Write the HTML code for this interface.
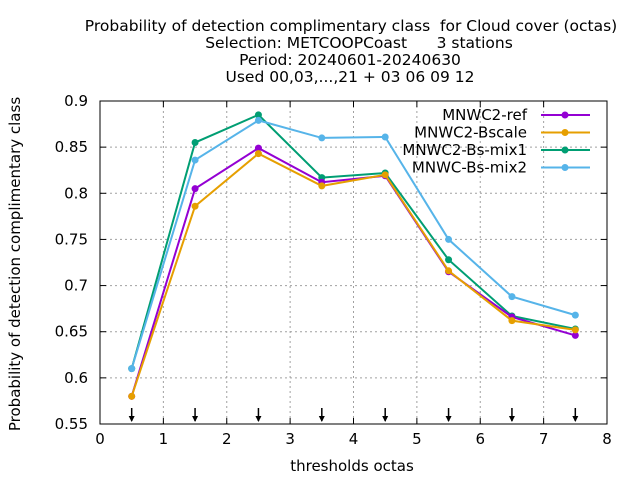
<!DOCTYPE html>
<html><head><meta charset="utf-8"><style>body{margin:0;background:#fff}svg{display:block;font-family:"DejaVu Sans","Liberation Sans",sans-serif}text{white-space:pre}</style></head>
<body>
<svg id="chart" width="640" height="480">
<g font-size="15.5" text-anchor="middle" fill="#000">
<text x="351" y="31">Probability of detection complimentary class  for Cloud cover (octas)</text>
<text x="359" y="48">Selection: METCOOPCoast      3 stations</text>
<text x="350" y="65">Period: 20240601-20240630</text>
<text x="350" y="82">Used 00,03,...,21 + 03 06 09 12</text>
</g>
<text transform="translate(20,264) rotate(-90)" text-anchor="middle" font-size="15">Probability of detection complimentary class</text>
<text x="352" y="471" text-anchor="middle" font-size="15">thresholds octas</text>
<g id="grid"></g><g id="axes"></g><g id="series"></g><g id="legend"></g>
</svg>
<script>
const categories=[0.5,1.5,2.5,3.5,4.5,5.5,6.5,7.5];
const xTicks=[0,1,2,3,4,5,6,7,8];
const yTicks=[0.55,0.6,0.65,0.7,0.75,0.8,0.85,0.9];
const yTickLabels=["0.55","0.6","0.65","0.7","0.75","0.8","0.85","0.9"];
const seriesNames=["MNWC2-ref","MNWC2-Bscale","MNWC2-Bs-mix1","MNWC-Bs-mix2"];
const seriesColors=["#9400d3","#e69f00","#009e73","#56b4e9"];
const refValues=[0.58,0.805,0.849,0.812,0.819,0.715,0.666,0.646];
const bscaleValues=[0.58,0.786,0.843,0.808,0.82,0.716,0.662,0.652];
const mix1Values=[0.61,0.855,0.885,0.817,0.822,0.728,0.667,0.653];
const mix2Values=[0.61,0.836,0.879,0.86,0.861,0.75,0.688,0.668];
const allSeries=[refValues,bscaleValues,mix1Values,mix2Values];
const drawOrder=[2,3,0,1];
const L=100,R=607,T=101,B=424,x0=0,x1=8,y0=0.55,y1=0.9;
const X=v=>L+(v-x0)/(x1-x0)*(R-L);
const Y=v=>B-(v-y0)/(y1-y0)*(B-T);
const NS="http://www.w3.org/2000/svg";
function mk(t,a,p){const e=document.createElementNS(NS,t);for(const k in a)e.setAttribute(k,a[k]);p.appendChild(e);return e;}
const grid=document.getElementById('grid'),axes=document.getElementById('axes'),ser=document.getElementById('series'),leg=document.getElementById('legend');
xTicks.forEach(v=>{const x=X(v);
if(v>x0&&v<x1){const g=mk('line',{x1:x,x2:x,y1:T,y2:B,stroke:'#a0a0a0','stroke-dasharray':'2,3','stroke-width':1},grid);}
const t=mk('text',{x:x,y:B+20,'text-anchor':'middle','font-size':15},axes);t.textContent=v;

mk('line',{x1:x,x2:x,y1:B,y2:B-6,stroke:'#000'},axes);mk('line',{x1:x,x2:x,y1:T,y2:T+6,stroke:'#000'},axes);});
yTicks.forEach((v,i)=>{const y=Y(v);
if(v>y0&&v<y1){const g=mk('line',{x1:L,x2:R,y1:y,y2:y,stroke:'#a0a0a0','stroke-dasharray':'2,3','stroke-width':1},grid);}
const t=mk('text',{x:L-12,y:y+5,'text-anchor':'end','font-size':15},axes);t.textContent=yTickLabels[i];

mk('line',{x1:L,x2:L+6,y1:y,y2:y,stroke:'#000'},axes);mk('line',{x1:R,x2:R-6,y1:y,y2:y,stroke:'#000'},axes);});
const fr=mk('rect',{x:L,y:T,width:R-L,height:B-T,fill:'none',stroke:'#000'},axes);

categories.forEach(c=>{const x=X(c);
const a=mk('g',{},axes);
mk('line',{x1:x,x2:x,y1:B-16,y2:B-3,stroke:'#000','stroke-width':1.5},a);
mk('path',{d:`M${x-3},${B-8} L${x+3},${B-8} L${x},${B-2} Z`,fill:'#000'},a);});
drawOrder.forEach(si=>{const vals=allSeries[si];const c=seriesColors[si];
const g=mk('g',{},ser);
const pl=mk('polyline',{points:vals.map((v,i)=>X(categories[i])+','+Y(v)).join(' '),fill:'none',stroke:c,'stroke-width':2},g);

vals.forEach((v,i)=>{const m=mk('circle',{cx:X(categories[i]),cy:Y(v),r:3.5,fill:c},g);
});});
seriesNames.forEach((n,si)=>{const c=seriesColors[si];const ly=115+si*17.5;
const le=mk('g',{},leg);
const lt=mk('text',{x:527,y:ly+5,'text-anchor':'end','font-size':15},le);lt.textContent=n;
mk('line',{x1:541,x2:590,y1:ly,y2:ly,stroke:c,'stroke-width':2},le);
mk('circle',{cx:565,cy:ly,r:3.5,fill:c},le);});
</script>
</body></html>
